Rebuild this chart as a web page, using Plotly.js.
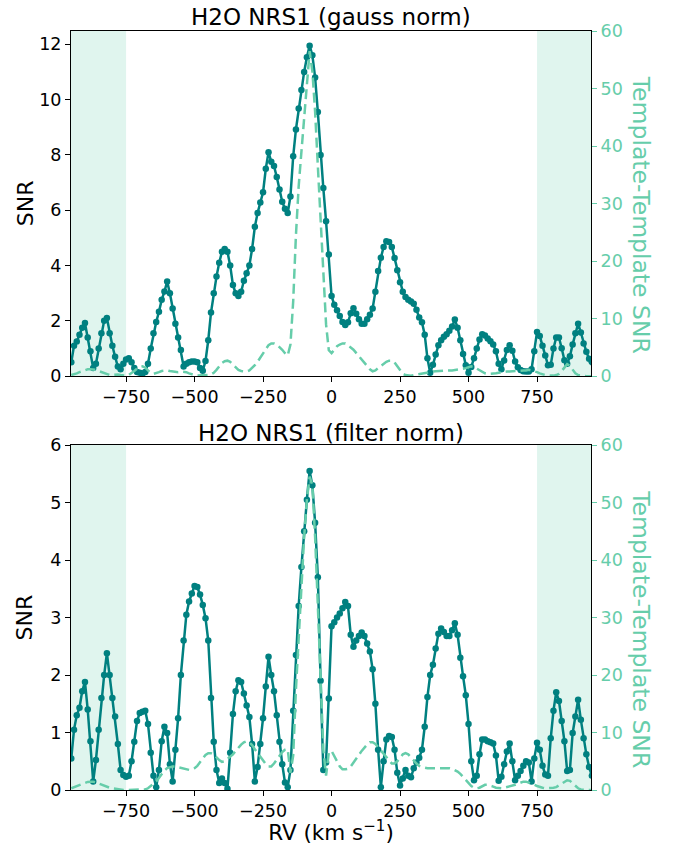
<!DOCTYPE html>
<html>
<head>
<meta charset="utf-8">
<script src="https://cdn.plot.ly/plotly-3.0.1.min.js"></script>
<style>html,body{margin:0;padding:0;background:#fff;}</style>
</head>
<body>
<div id="chart" style="width:676px;height:845px;"></div>
<script>
// RV grid (km/s)
const rv = [
 -950,-940,-930,-920,-910,-900,-890,-880,-870,-860,
 -850,-840,-830,-820,-810,-800,-790,-780,-770,-760,
 -750,-740,-730,-720,-710,-700,-690,-680,-670,-660,
 -650,-640,-630,-620,-610,-600,-590,-580,-570,-560,
 -550,-540,-530,-520,-510,-500,-490,-480,-470,-460,
 -450,-440,-430,-420,-410,-400,-390,-380,-370,-360,
 -350,-340,-330,-320,-310,-300,-290,-280,-270,-260,
 -250,-240,-230,-220,-210,-200,-190,-180,-170,-160,
 -150,-140,-130,-120,-110,-100,-90,-80,-70,-60,
 -50,-40,-30,-20,-10,0,10,20,30,40,
 50,60,70,80,90,100,110,120,130,140,
 150,160,170,180,190,200,210,220,230,240,
 250,260,270,280,290,300,310,320,330,340,
 350,360,370,380,390,400,410,420,430,440,
 450,460,470,480,490,500,510,520,530,540,
 550,560,570,580,590,600,610,620,630,640,
 650,660,670,680,690,700,710,720,730,740,
 750,760,770,780,790,800,810,820,830,840,
 850,860,870,880,890,900,910,920,930,940,
 950
];

// Top panel: H2O NRS1 (gauss norm) SNR
const snrGauss = [
 0.5,1.1,1.25,1.5,1.75,1.92,1.4,0.9,0.3,0.45,
 1.0,1.55,2.0,2.1,1.55,1.1,0.7,0.35,0.25,0.45,
 0.6,0.65,0.5,0.3,0.15,0.12,0.1,0.15,0.45,1.0,
 1.55,1.96,2.33,2.76,3.06,3.42,3.0,2.45,1.9,1.4,
 0.95,0.35,0.45,0.5,0.53,0.53,0.5,0.3,0.2,0.55,
 1.3,2.3,3.0,3.6,4.1,4.5,4.6,4.5,4.0,3.3,
 3.0,2.9,3.05,3.45,3.72,4.0,4.6,5.4,5.9,6.28,
 6.65,7.5,8.1,7.75,7.6,7.2,6.75,6.31,6.05,5.9,
 6.5,7.95,8.92,9.68,10.35,11.0,11.53,11.95,11.6,10.8,
 9.55,8.0,6.8,5.6,4.4,2.9,2.58,2.38,2.18,1.96,
 1.85,1.95,2.28,2.46,2.26,2.06,1.9,1.9,2.06,2.22,
 2.45,3.05,3.8,4.28,4.67,4.88,4.85,4.67,4.27,3.83,
 3.4,3.05,2.86,2.76,2.7,2.62,2.4,2.12,1.95,1.5,
 0.65,0.12,0.41,0.78,1.12,1.3,1.43,1.52,1.64,1.8,
 2.05,1.75,1.3,0.8,0.4,0.12,0.33,0.65,1.0,1.33,
 1.52,1.47,1.36,1.26,1.15,0.9,0.45,0.25,0.57,0.95,
 1.12,0.92,0.53,0.32,0.22,0.18,0.17,0.17,0.25,0.9,
 1.6,1.45,1.1,0.75,0.4,0.41,1.0,1.4,1.4,1.01,
 0.58,0.45,0.72,1.15,1.55,1.9,1.58,1.18,0.88,0.63,
 0.5
];
// Top panel: template-template SNR
const ttGauss = [
 0.2,0.3,0.5,0.7,0.9,1.1,1.2,1.2,1.2,1.1,
 0.9,0.7,0.5,0.3,0.2,0.2,0.3,0.3,0.2,0.1,
 0.1,0.2,0.5,0.9,1.3,1.6,1.7,1.5,1.0,0.6,
 0.4,0.5,0.7,0.9,1.0,1.0,0.9,0.8,0.7,0.7,
 0.8,0.8,0.7,0.5,0.3,0.2,0.1,0.1,0.1,0.2,
 0.2,0.3,0.6,1.1,1.7,2.3,2.6,2.7,2.5,2.0,
 1.5,1.1,0.9,0.8,0.8,1.0,1.4,1.9,2.5,3.2,
 4.0,4.8,5.4,5.7,5.7,5.5,5.1,4.6,4.0,3.6,
 5.5,13,24.5,33,39,45,50.5,56.5,53,46,
 36.5,26.5,18,9,4.5,4.0,4.6,5.2,5.5,5.7,
 5.7,5.4,5.0,4.6,4.0,3.4,2.8,2.3,1.7,1.2,
 0.85,1.0,1.4,1.8,2.2,2.5,2.7,2.7,2.4,1.8,
 1.1,0.4,0.2,0.1,0.1,0.2,0.3,0.4,0.5,0.6,
 0.7,0.75,0.8,0.85,0.9,0.9,0.95,1.0,1.0,1.0,
 1.05,1.1,1.2,1.3,1.4,1.6,1.7,1.6,1.3,1.0,
 0.7,0.5,0.4,0.4,0.5,0.5,0.6,0.7,0.7,0.8,
 0.8,0.9,0.9,0.9,1.0,1.0,1.0,1.1,1.0,0.9,
 0.7,0.5,0.3,0.2,0.15,0.1,0.1,0.2,0.4,0.9,
 1.5,2.1,1.8,1.1,0.5,0.2,0.1,0.05,0.0,0.0,
 0.0
];

// Bottom panel: H2O NRS1 (filter norm) SNR
const snrFilter = [
 0.55,1.05,1.3,1.43,1.72,1.88,1.4,0.85,0.15,0.52,
 1.05,1.6,2.0,2.38,2.0,1.6,1.28,0.8,0.35,0.26,
 0.23,0.25,0.5,0.84,1.2,1.34,1.36,1.38,1.15,0.65,
 0.25,0.05,0.35,0.85,1.1,0.99,0.45,0.15,0.7,1.25,
 2.0,2.6,3.05,3.28,3.42,3.55,3.53,3.4,3.22,2.99,
 2.6,1.6,0.84,0.35,0.12,0.2,0.12,0.02,0.65,1.32,
 1.72,1.91,1.88,1.68,1.47,1.27,0.8,0.15,0.4,0.8,
 1.25,1.8,2.32,2.0,1.72,1.3,0.84,0.45,0.13,0.05,
 0.35,1.38,2.35,3.2,3.88,4.5,5.05,5.55,5.3,4.65,
 3.7,1.9,0.35,0.48,1.59,2.85,2.92,3.0,3.07,3.16,
 3.27,3.2,2.7,2.49,2.6,2.68,2.74,2.68,2.55,2.41,
 2.1,1.5,0.7,0.05,0.5,0.88,0.94,0.92,0.7,0.3,
 0.08,0.2,0.35,0.25,0.22,0.38,0.48,0.56,0.7,1.1,
 1.62,2.0,2.18,2.46,2.72,2.81,2.75,2.68,2.68,2.78,
 2.9,2.7,2.3,1.98,1.65,1.15,0.5,0.17,0.25,0.62,
 0.88,0.88,0.85,0.83,0.81,0.6,0.16,0.23,0.45,0.67,
 0.81,0.5,0.17,0.25,0.33,0.42,0.5,0.48,0.15,0.55,
 0.82,0.7,0.42,0.27,0.25,0.9,1.38,1.7,1.55,1.2,
 0.85,0.33,0.35,0.99,1.28,1.57,1.22,0.9,0.62,0.4,
 0.25
];
// Bottom panel: template-template SNR
const ttFilter = [
 0.3,0.5,0.7,0.9,1.1,1.3,1.4,1.45,1.45,1.3,
 1.1,0.9,0.7,0.5,0.4,0.3,0.2,0.1,0.05,0.0,
 0.0,0.0,0.0,0.0,0.0,0.0,0.0,0.1,0.3,0.7,
 1.1,1.5,2.1,2.8,3.4,3.8,4.0,4.1,4.1,4.0,
 3.8,3.7,3.6,3.5,3.6,3.8,4.2,4.8,5.5,6.1,
 6.4,6.4,6.2,5.7,5.2,4.9,5.0,5.4,5.8,6.2,
 6.8,7.4,7.9,8.3,8.5,8.3,7.8,7.1,6.4,5.8,
 5.1,4.5,4.1,4.1,4.6,5.3,6.0,6.6,7.0,7.1,
 3.0,6.0,17.5,27,36.5,44,50.5,54.5,53,44,
 32,21,7,2.5,6.5,6.8,6.0,5.0,4.1,3.6,
 3.6,3.7,4.1,4.7,5.4,6.1,6.8,7.4,7.9,8.3,
 8.3,8.0,7.4,6.8,6.2,5.6,5.0,4.6,4.6,5.0,
 5.6,6.2,6.4,6.2,5.7,5.1,4.6,4.2,4.0,3.9,
 3.8,3.8,3.8,3.9,3.9,3.9,3.9,3.9,3.8,3.7,
 3.5,3.2,2.8,2.3,1.8,1.2,0.7,0.4,0.3,0.4,
 0.6,0.9,0.9,0.8,0.6,0.4,0.3,0.3,0.4,0.5,
 0.6,0.7,0.9,1.1,1.3,1.45,1.45,1.3,1.1,0.9,
 0.7,0.5,0.4,0.3,0.3,0.3,0.4,0.5,0.8,1.1,
 1.5,1.7,1.6,1.2,0.7,0.3,0.1,0.0,0.0,0.0,
 0.0
];

const panelTitles = ['H2O NRS1 (gauss norm)', 'H2O NRS1 (filter norm)'];
const xTicks = [-750, -500, -250, 0, 250, 500, 750];
const maskedRanges = [[-1000, -750], [750, 1000]];

const TEAL = '#008080';
const AQUA = '#66cdaa';
const FONT = 'DejaVu Sans';

function solid(y, xa, ya) {
  return {x: rv, y: y, xaxis: xa, yaxis: ya, type: 'scatter', mode: 'lines+markers',
    line: {color: TEAL, width: 2.5}, marker: {color: TEAL, size: 6.5, line: {width: 0}},
    hoverinfo: 'skip'};
}
function dashed(y, xa, ya) {
  return {x: rv, y: y, xaxis: xa, yaxis: ya, type: 'scatter', mode: 'lines',
    line: {color: AQUA, width: 2.5, dash: '10px,5px'}, hoverinfo: 'skip'};
}

const data = [
  solid(snrGauss, 'x', 'y'),
  dashed(ttGauss, 'x', 'y2'),
  solid(snrFilter, 'x2', 'y3'),
  dashed(ttFilter, 'x2', 'y4')
];

const xBase = {
  range: [-951, 947], tickvals: xTicks, ticks: 'outside', ticklen: 5, tickwidth: 1,
  tickcolor: 'black', showline: true, mirror: true, linecolor: 'black', linewidth: 1,
  showgrid: false, zeroline: false, automargin: false,
  tickfont: {family: FONT, size: 17.5, color: 'black'}
};
const yLeft = {
  ticks: 'outside', ticklen: 5, tickwidth: 1, tickcolor: 'black', showline: true, mirror: true,
  linecolor: 'black', linewidth: 1, showgrid: false, zeroline: false, automargin: false,
  tickfont: {family: FONT, size: 17.5, color: 'black'}
};
const yRight = {
  side: 'right', range: [0, 60], dtick: 10, ticks: 'outside', ticklen: 5, tickwidth: 1,
  tickcolor: AQUA, showline: false, showgrid: false, zeroline: false, automargin: false,
  tickfont: {family: FONT, size: 17.5, color: AQUA}
};

const topDom = [0.5452, 1];
const botDom = [0, 0.4544];

const shapes = [];
[['x', 'y domain'], ['x2', 'y3 domain']].forEach(([xr, yr]) => {
  maskedRanges.forEach(r => {
    shapes.push({type: 'rect', xref: xr, yref: yr, x0: r[0], x1: r[1], y0: 0, y1: 1,
      fillcolor: AQUA, opacity: 0.2, line: {width: 0}, layer: 'below'});
  });
});

const annotations = [
  {text: panelTitles[0], xref: 'paper', yref: 'paper', x: 0.5, y: 1.018, xanchor: 'center', yanchor: 'middle',
   showarrow: false, font: {family: FONT, size: 23, color: 'black'}},
  {text: panelTitles[1], xref: 'paper', yref: 'paper', x: 0.5, y: 0.4702, xanchor: 'center', yanchor: 'middle',
   showarrow: false, font: {family: FONT, size: 23, color: 'black'}},
  {text: 'SNR', xref: 'paper', yref: 'paper', x: -0.0885, y: 0.773, textangle: -90, xanchor: 'center', yanchor: 'middle',
   showarrow: false, font: {family: FONT, size: 22, color: 'black'}},
  {text: 'SNR', xref: 'paper', yref: 'paper', x: -0.0885, y: 0.2272, textangle: -90, xanchor: 'center', yanchor: 'middle',
   showarrow: false, font: {family: FONT, size: 22, color: 'black'}},
  {text: 'Template-Template SNR', xref: 'paper', yref: 'paper', x: 1.096, y: 0.758, textangle: 90, xanchor: 'center', yanchor: 'middle',
   showarrow: false, font: {family: FONT, size: 23.5, color: AQUA}},
  {text: 'Template-Template SNR', xref: 'paper', yref: 'paper', x: 1.096, y: 0.212, textangle: 90, xanchor: 'center', yanchor: 'middle',
   showarrow: false, font: {family: FONT, size: 23.5, color: AQUA}}
];

const layout = {
  width: 676, height: 845,
  margin: {l: 71, r: 85, t: 31, b: 55, pad: 0},
  paper_bgcolor: 'white', plot_bgcolor: 'white',
  showlegend: false,
  font: {family: FONT, size: 17.5, color: 'black'},
  xaxis: Object.assign({}, xBase, {domain: [0, 1], anchor: 'y'}),
  yaxis: Object.assign({}, yLeft, {domain: topDom, anchor: 'x', range: [0, 12.48], dtick: 2}),
  yaxis2: Object.assign({}, yRight, {overlaying: 'y', anchor: 'x'}),
  xaxis2: Object.assign({}, xBase, {domain: [0, 1], anchor: 'y3',
    title: {text: 'RV (km s<sup>−1</sup>)', standoff: 2, font: {family: FONT, size: 21.5, color: 'black'}}}),
  yaxis3: Object.assign({}, yLeft, {domain: botDom, anchor: 'x2', range: [0, 6], dtick: 1}),
  yaxis4: Object.assign({}, yRight, {overlaying: 'y3', anchor: 'x2'}),
  shapes: shapes,
  annotations: annotations
};

Plotly.newPlot('chart', data, layout, {staticPlot: true, displayModeBar: false});
</script>
</body>
</html>
